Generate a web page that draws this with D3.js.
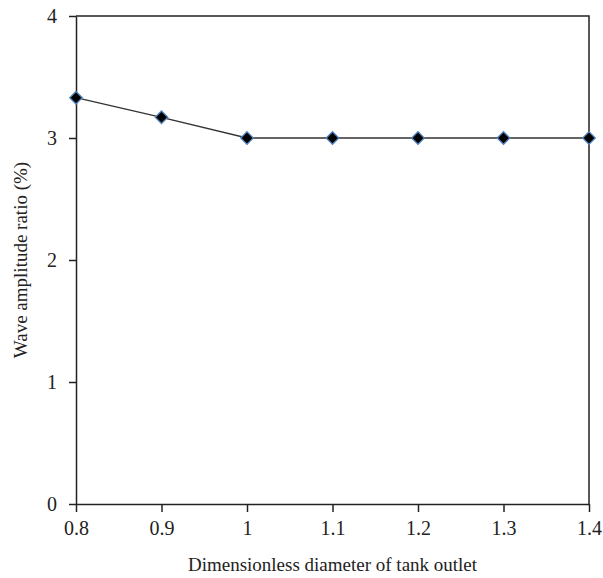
<html>
<head>
  <script src="https://d3js.org/d3.v7.min.js"></script>
  <style>
    body { margin: 0; background: #fff; }
    text { font-family: "Liberation Serif", "DejaVu Serif", serif; fill: #222; }
    .axis .domain, .axis .tick line { stroke: #222; stroke-width: 1.5px; }
    .frame { fill: none; stroke: #222; stroke-width: 1.5px; }
    .line { fill: none; stroke: #333; stroke-width: 1.3px; }
    .dot { fill: #000; stroke: #4f81bd; stroke-width: 1.3px; }
    .label { font-size: 19px; }
  </style>
</head>
<body>
  <svg width="603" height="578"></svg>
  <script>
    var diameters = [0.8, 0.9, 1.0, 1.1, 1.2, 1.3, 1.4];
    var ratios = [3.33, 3.17, 3.0, 3.0, 3.0, 3.0, 3.0];
    var xTicks = [0.8, 0.9, 1, 1.1, 1.2, 1.3, 1.4];
    var yTicks = [0, 1, 2, 3, 4];

    var svg = d3.select("svg"),
        margin = {top: 16, right: 14, bottom: 74, left: 76},
        width = +svg.attr("width") - margin.left - margin.right,
        height = +svg.attr("height") - margin.top - margin.bottom,
        g = svg.append("g").attr("transform", "translate(" + margin.left + "," + margin.top + ")");

    var x = d3.scaleLinear().domain([0.8, 1.4]).range([0, width]);
    var y = d3.scaleLinear().domain([0, 4]).range([height, 0]);

    g.append("path")
        .attr("class", "frame")
        .attr("d", "M0,0H" + width + "V" + height);

    var xAxis = g.append("g")
        .attr("class", "axis")
        .attr("transform", "translate(0," + height + ")")
        .call(d3.axisBottom(x).tickValues(xTicks).tickSize(8).tickSizeOuter(0).tickPadding(9)
          .tickFormat(function(d) { return String(+d.toFixed(1)); }));

    var yAxis = g.append("g")
        .attr("class", "axis")
        .call(d3.axisLeft(y).tickValues(yTicks).tickSize(7).tickSizeOuter(0).tickPadding(12)
          .tickFormat(d3.format("d")));

    [xAxis, yAxis].forEach(function(a) {
      a.attr("font-size", null).attr("font-family", null);
      a.selectAll("text")
          .style("font-size", "20px")
          .style("font-family", "'Liberation Serif', serif");
    });

    var data = diameters.map(function(d, i) { return {d: d, r: ratios[i]}; });

    g.append("path")
        .datum(data)
        .attr("class", "line")
        .attr("d", d3.line().x(function(d) { return x(d.d); }).y(function(d) { return y(d.r); }));

    g.selectAll(".dot")
        .data(data)
      .enter().append("path")
        .attr("class", "dot")
        .attr("transform", function(d) { return "translate(" + x(d.d) + "," + y(d.r) + ")"; })
        .attr("d", d3.symbol().type(d3.symbolDiamond2).size(100));

    svg.append("text")
        .attr("class", "label")
        .attr("x", margin.left + width / 2)
        .attr("y", 571)
        .attr("text-anchor", "middle")
        .text("Dimensionless diameter of tank outlet");

    svg.append("text")
        .attr("class", "label")
        .attr("transform", "translate(27," + (margin.top + height / 2) + ") rotate(-90)")
        .attr("text-anchor", "middle")
        .text("Wave amplitude ratio (%)");
  </script>
</body>
</html>
